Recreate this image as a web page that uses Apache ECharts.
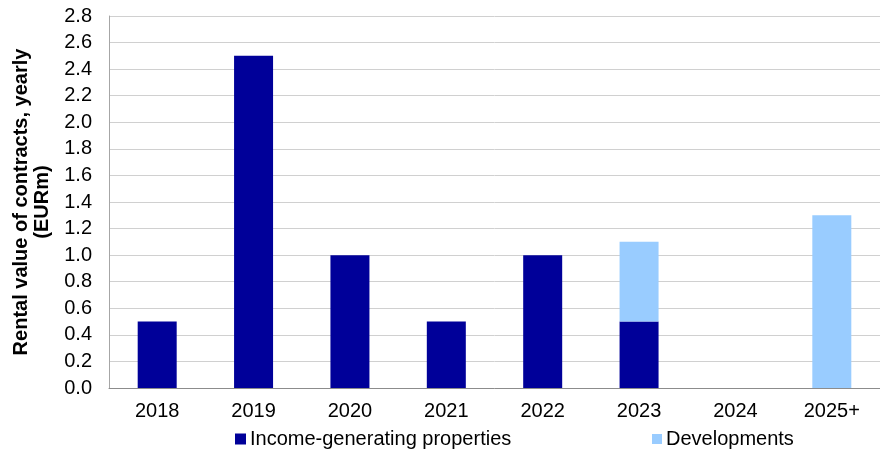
<!DOCTYPE html>
<html>
<head>
<meta charset="utf-8">
<script src="https://cdn.jsdelivr.net/npm/echarts@6/dist/echarts.min.js"></script>
<style>
  html, body { margin: 0; padding: 0; background: #fff; }
  #chart { width: 880px; height: 450px; }
</style>
</head>
<body>
<div id="chart"></div>
<script>
// Contract expiry profile: yearly rental value by expiry year
const years = ['2018', '2019', '2020', '2021', '2022', '2023', '2024', '2025+'];
const incomeGenerating = [0.5, 2.5, 1.0, 0.5, 1.0, 0.5, null, null];
const developments = [null, null, null, null, null, 0.6, null, 1.3];

const FONT = 'Liberation Sans, Arial, sans-serif';
const legendText = { fontSize: 20, color: '#000', fontFamily: FONT, padding: [0, 0, 0, -1] };

const chart = echarts.init(document.getElementById('chart'), null, { renderer: 'canvas' });

chart.setOption({
  animation: false,
  textStyle: { fontFamily: FONT },
  grid: { left: 109, top: 16, width: 774, height: 372, containLabel: false },
  legend: [
    {
      left: 235, top: 429, padding: 0, itemWidth: 11, itemHeight: 11, icon: 'rect',
      textStyle: legendText,
      data: ['Income-generating properties']
    },
    {
      left: 652, top: 429, padding: 0, itemWidth: 10, itemHeight: 10, icon: 'rect',
      textStyle: legendText,
      data: ['Developments']
    }
  ],
  xAxis: {
    type: 'category',
    data: years,
    axisLine: { lineStyle: { color: '#8c8c8c', width: 1 } },
    axisTick: { show: false },
    axisLabel: { color: '#000', fontSize: 20, margin: 13, fontFamily: FONT }
  },
  yAxis: {
    type: 'value',
    min: 0,
    max: 2.8,
    interval: 0.2,
    name: 'Rental value of contracts, yearly\n(EURm)',
    nameLocation: 'middle',
    nameRotate: 90,
    nameGap: 52,
    nameTextStyle: { fontSize: 20, fontWeight: 'bold', color: '#000', lineHeight: 21, fontFamily: FONT },
    axisLine: { show: true, lineStyle: { color: '#a6a6a6', width: 1 } },
    axisTick: { show: false },
    splitLine: { lineStyle: { color: '#d0d0d0', width: 1 } },
    axisLabel: {
      color: '#000', fontSize: 20, margin: 17, fontFamily: FONT,
      formatter: v => v.toFixed(1)
    }
  },
  series: [
    {
      name: 'Income-generating properties',
      type: 'bar',
      stack: 'total',
      barWidth: 39,
      itemStyle: { color: '#000099' },
      data: incomeGenerating
    },
    {
      name: 'Developments',
      type: 'bar',
      stack: 'total',
      barWidth: 39,
      itemStyle: { color: '#99ccff' },
      data: developments
    }
  ]
});
</script>
</body>
</html>
